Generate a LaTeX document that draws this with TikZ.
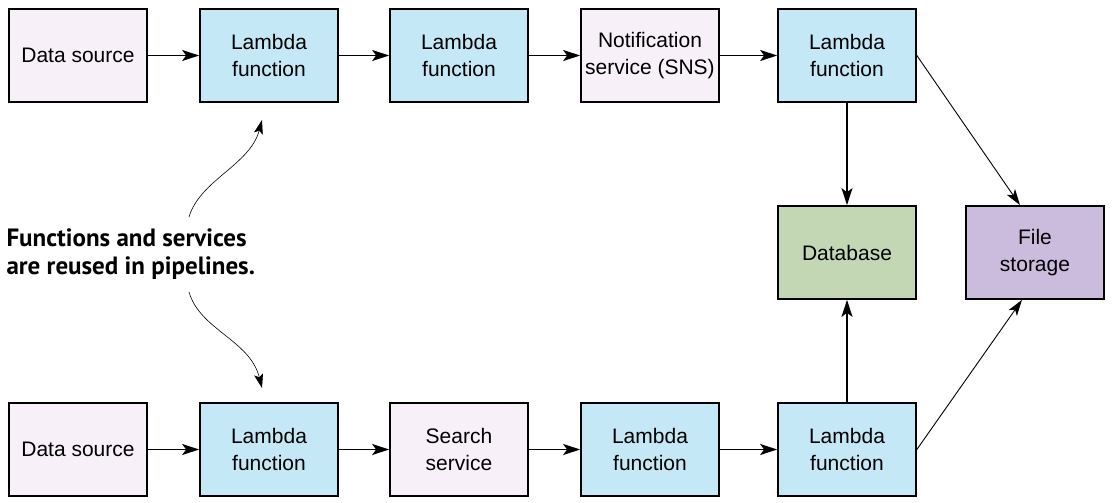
\documentclass[tikz,border=0pt]{standalone}
\usepackage{fontspec}
\setmainfont{Liberation Sans}
\newfontfamily\notefont{PT Sans}
\usetikzlibrary{arrows.meta}
\definecolor{srcpink}{HTML}{F7F0F8}
\definecolor{lamblue}{HTML}{C5E8F7}
\definecolor{dbgreen}{HTML}{C3D7B5}
\definecolor{filepurple}{HTML}{CBBBDD}
\begin{document}
\begin{tikzpicture}[x=1pt,y=-1pt,
    box/.style={draw,line width=1.7pt,minimum width=138pt,minimum height=93pt,
      inner sep=0pt,align=center,font=\fontsize{21}{27}\selectfont},
    src/.style={box,fill=srcpink},
    lam/.style={box,fill=lamblue},
    db/.style={box,fill=dbgreen},
    files/.style={box,fill=filepurple},
    flow/.style={-{Stealth[length=17pt,width=11pt,inset=4pt]},line width=1.7pt},
    slant/.style={-{Stealth[length=16pt,width=10pt,inset=4pt]},line width=0.9pt},
    curvy/.style={-{Stealth[length=14pt,width=9pt,inset=3pt]},line width=0.6pt}]
  \useasboundingbox (0,0) rectangle (1114,503);
  % top pipeline
  \draw
    (78,55.5) node[src] (src1){Data source}
    (269,55.5) node[lam] (lam1){Lambda\\function}
    (459,55.5) node[lam] (lam2){Lambda\\function}
    (650,55.5) node[src] (sns){Notification\\service (SNS)}
    (847,55.5) node[lam] (lam3){Lambda\\function};
  % bottom pipeline
  \draw
    (78,449.5) node[src] (src2){Data source}
    (269,449.5) node[lam] (lam4){Lambda\\function}
    (459,449.5) node[src] (search){Search\\service}
    (650,449.5) node[lam] (lam5){Lambda\\function}
    (847,449.5) node[lam] (lam6){Lambda\\function};
  % storage
  \draw
    (847,252.5) node[db] (db){Database}
    (1035,252.5) node[files] (store){File\\storage};
  \node[anchor=west,align=left,font=\notefont\bfseries\fontsize{25}{28}\selectfont]
    (note) at (3,254) {Functions and services\\are reused in pipelines.};
  \coordinate (upFrom) at (189,217);
  \coordinate (upTo) at (262,120);
  \coordinate (downFrom) at (189,292);
  \coordinate (downTo) at (262,388);
  \begin{scope}[flow]
    \draw (src1) to (lam1);
    \draw (lam1) to (lam2);
    \draw (lam2) to (sns);
    \draw (sns) to (lam3);
    \draw (lam3) to (db);
    \draw (src2) to (lam4);
    \draw (lam4) to (search);
    \draw (search) to (lam5);
    \draw (lam5) to (lam6);
    \draw (lam6) to (db);
  \end{scope}
  \begin{scope}[slant]
    \draw (lam3.east) to (store.north west -| 1020,0);
    \draw (lam6.east) to (store.south west -| 1022,0);
  \end{scope}
  \begin{scope}[curvy]
    \draw (upFrom) .. controls (200,180) and (250,165) .. (upTo);
    \draw (downFrom) .. controls (200,330) and (250,340) .. (downTo);
  \end{scope}
\end{tikzpicture}
\end{document}
